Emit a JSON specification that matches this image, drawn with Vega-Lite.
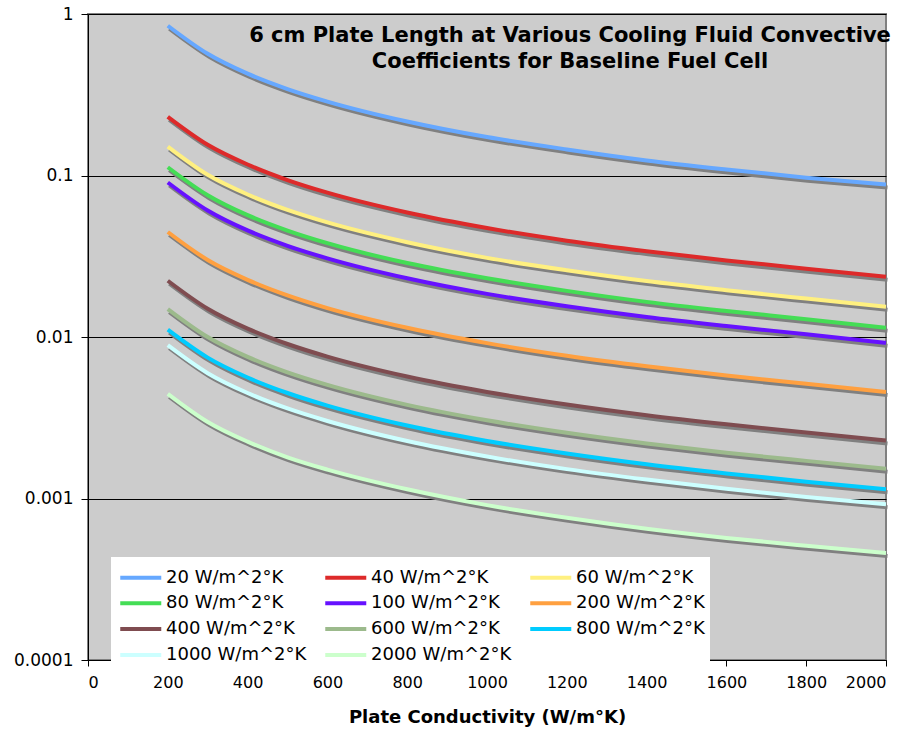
{
  "$schema": "https://vega.github.io/schema/vega-lite/v6.json",
  "width": 798,
  "height": 646,
  "autosize": {"type": "none"},
  "padding": {"left": 88, "top": 14, "right": 25, "bottom": 72},
  "background": "white",
  "title": {
    "text": ["6 cm Plate Length at Various Cooling Fluid Convective", "Coefficients for Baseline Fuel Cell"],
    "font": "DejaVu Sans",
    "fontSize": 21,
    "fontWeight": "bold",
    "color": "black",
    "anchor": "middle",
    "frame": "group",
    "lineHeight": 26,
    "dx": 83,
    "offset": -67
  },
  "config": {
    "view": {"fill": "#CCCCCC", "stroke": "#808080", "strokeWidth": 2},
    "axis": {"labelFont": "DejaVu Sans", "labelColor": "black", "titleFont": "DejaVu Sans", "titleColor": "black", "domainColor": "black", "tickColor": "black"}
  },
  "data": {"values": [
    {"k":200,"h":"20 W/m^2°K","v":0.846},{"k":300,"h":"20 W/m^2°K","v":0.567},{"k":400,"h":"20 W/m^2°K","v":0.427},{"k":500,"h":"20 W/m^2°K","v":0.343},{"k":600,"h":"20 W/m^2°K","v":0.287},{"k":800,"h":"20 W/m^2°K","v":0.216},{"k":1000,"h":"20 W/m^2°K","v":0.173},{"k":1200,"h":"20 W/m^2°K","v":0.145},{"k":1400,"h":"20 W/m^2°K","v":0.124},{"k":1600,"h":"20 W/m^2°K","v":0.109},{"k":1800,"h":"20 W/m^2°K","v":0.097},{"k":2000,"h":"20 W/m^2°K","v":0.088},
    {"k":200,"h":"40 W/m^2°K","v":0.231},{"k":300,"h":"40 W/m^2°K","v":0.155},{"k":400,"h":"40 W/m^2°K","v":0.117},{"k":500,"h":"40 W/m^2°K","v":0.0937},{"k":600,"h":"40 W/m^2°K","v":0.0783},{"k":800,"h":"40 W/m^2°K","v":0.059},{"k":1000,"h":"40 W/m^2°K","v":0.0473},{"k":1200,"h":"40 W/m^2°K","v":0.0395},{"k":1400,"h":"40 W/m^2°K","v":0.034},{"k":1600,"h":"40 W/m^2°K","v":0.0298},{"k":1800,"h":"40 W/m^2°K","v":0.0265},{"k":2000,"h":"40 W/m^2°K","v":0.0236},
    {"k":200,"h":"60 W/m^2°K","v":0.151},{"k":300,"h":"60 W/m^2°K","v":0.101},{"k":400,"h":"60 W/m^2°K","v":0.0763},{"k":500,"h":"60 W/m^2°K","v":0.0612},{"k":600,"h":"60 W/m^2°K","v":0.0512},{"k":800,"h":"60 W/m^2°K","v":0.0386},{"k":1000,"h":"60 W/m^2°K","v":0.0309},{"k":1200,"h":"60 W/m^2°K","v":0.0259},{"k":1400,"h":"60 W/m^2°K","v":0.0222},{"k":1600,"h":"60 W/m^2°K","v":0.0195},{"k":1800,"h":"60 W/m^2°K","v":0.0173},{"k":2000,"h":"60 W/m^2°K","v":0.0154},
    {"k":200,"h":"80 W/m^2°K","v":0.1125},{"k":300,"h":"80 W/m^2°K","v":0.0755},{"k":400,"h":"80 W/m^2°K","v":0.0568},{"k":500,"h":"80 W/m^2°K","v":0.0456},{"k":600,"h":"80 W/m^2°K","v":0.0381},{"k":800,"h":"80 W/m^2°K","v":0.0287},{"k":1000,"h":"80 W/m^2°K","v":0.0231},{"k":1200,"h":"80 W/m^2°K","v":0.0193},{"k":1400,"h":"80 W/m^2°K","v":0.0165},{"k":1600,"h":"80 W/m^2°K","v":0.0145},{"k":1800,"h":"80 W/m^2°K","v":0.0129},{"k":2000,"h":"80 W/m^2°K","v":0.0114},
    {"k":200,"h":"100 W/m^2°K","v":0.0905},{"k":300,"h":"100 W/m^2°K","v":0.0607},{"k":400,"h":"100 W/m^2°K","v":0.0457},{"k":500,"h":"100 W/m^2°K","v":0.0367},{"k":600,"h":"100 W/m^2°K","v":0.0307},{"k":800,"h":"100 W/m^2°K","v":0.0231},{"k":1000,"h":"100 W/m^2°K","v":0.0185},{"k":1200,"h":"100 W/m^2°K","v":0.0155},{"k":1400,"h":"100 W/m^2°K","v":0.0133},{"k":1600,"h":"100 W/m^2°K","v":0.0117},{"k":1800,"h":"100 W/m^2°K","v":0.0104},{"k":2000,"h":"100 W/m^2°K","v":0.0092},
    {"k":200,"h":"200 W/m^2°K","v":0.0447},{"k":300,"h":"200 W/m^2°K","v":0.030},{"k":400,"h":"200 W/m^2°K","v":0.0226},{"k":500,"h":"200 W/m^2°K","v":0.0181},{"k":600,"h":"200 W/m^2°K","v":0.0151},{"k":800,"h":"200 W/m^2°K","v":0.0114},{"k":1000,"h":"200 W/m^2°K","v":0.00916},{"k":1200,"h":"200 W/m^2°K","v":0.00765},{"k":1400,"h":"200 W/m^2°K","v":0.00658},{"k":1600,"h":"200 W/m^2°K","v":0.00577},{"k":1800,"h":"200 W/m^2°K","v":0.00513},{"k":2000,"h":"200 W/m^2°K","v":0.00457},
    {"k":200,"h":"400 W/m^2°K","v":0.0223},{"k":300,"h":"400 W/m^2°K","v":0.01496},{"k":400,"h":"400 W/m^2°K","v":0.01127},{"k":500,"h":"400 W/m^2°K","v":0.00905},{"k":600,"h":"400 W/m^2°K","v":0.00756},{"k":800,"h":"400 W/m^2°K","v":0.00569},{"k":1000,"h":"400 W/m^2°K","v":0.00457},{"k":1200,"h":"400 W/m^2°K","v":0.00382},{"k":1400,"h":"400 W/m^2°K","v":0.00328},{"k":1600,"h":"400 W/m^2°K","v":0.00288},{"k":1800,"h":"400 W/m^2°K","v":0.00256},{"k":2000,"h":"400 W/m^2°K","v":0.00229},
    {"k":200,"h":"600 W/m^2°K","v":0.0149},{"k":300,"h":"600 W/m^2°K","v":0.0100},{"k":400,"h":"600 W/m^2°K","v":0.00753},{"k":500,"h":"600 W/m^2°K","v":0.00604},{"k":600,"h":"600 W/m^2°K","v":0.00505},{"k":800,"h":"600 W/m^2°K","v":0.0038},{"k":1000,"h":"600 W/m^2°K","v":0.00305},{"k":1200,"h":"600 W/m^2°K","v":0.00255},{"k":1400,"h":"600 W/m^2°K","v":0.00219},{"k":1600,"h":"600 W/m^2°K","v":0.00192},{"k":1800,"h":"600 W/m^2°K","v":0.00171},{"k":2000,"h":"600 W/m^2°K","v":0.00153},
    {"k":200,"h":"800 W/m^2°K","v":0.0111},{"k":300,"h":"800 W/m^2°K","v":0.00745},{"k":400,"h":"800 W/m^2°K","v":0.00561},{"k":500,"h":"800 W/m^2°K","v":0.0045},{"k":600,"h":"800 W/m^2°K","v":0.00376},{"k":800,"h":"800 W/m^2°K","v":0.00283},{"k":1000,"h":"800 W/m^2°K","v":0.00227},{"k":1200,"h":"800 W/m^2°K","v":0.0019},{"k":1400,"h":"800 W/m^2°K","v":0.00163},{"k":1600,"h":"800 W/m^2°K","v":0.00143},{"k":1800,"h":"800 W/m^2°K","v":0.00127},{"k":2000,"h":"800 W/m^2°K","v":0.00114},
    {"k":200,"h":"1000 W/m^2°K","v":0.0089},{"k":300,"h":"1000 W/m^2°K","v":0.00597},{"k":400,"h":"1000 W/m^2°K","v":0.0045},{"k":500,"h":"1000 W/m^2°K","v":0.00361},{"k":600,"h":"1000 W/m^2°K","v":0.00302},{"k":800,"h":"1000 W/m^2°K","v":0.00227},{"k":1000,"h":"1000 W/m^2°K","v":0.00182},{"k":1200,"h":"1000 W/m^2°K","v":0.00152},{"k":1400,"h":"1000 W/m^2°K","v":0.00131},{"k":1600,"h":"1000 W/m^2°K","v":0.00115},{"k":1800,"h":"1000 W/m^2°K","v":0.00102},{"k":2000,"h":"1000 W/m^2°K","v":0.00092},
    {"k":200,"h":"2000 W/m^2°K","v":0.00445},{"k":300,"h":"2000 W/m^2°K","v":0.00298},{"k":400,"h":"2000 W/m^2°K","v":0.00225},{"k":500,"h":"2000 W/m^2°K","v":0.0018},{"k":600,"h":"2000 W/m^2°K","v":0.00151},{"k":800,"h":"2000 W/m^2°K","v":0.00114},{"k":1000,"h":"2000 W/m^2°K","v":0.00091},{"k":1200,"h":"2000 W/m^2°K","v":0.00076},{"k":1400,"h":"2000 W/m^2°K","v":0.00065},{"k":1600,"h":"2000 W/m^2°K","v":0.00057},{"k":1800,"h":"2000 W/m^2°K","v":0.00051},{"k":2000,"h":"2000 W/m^2°K","v":0.00046}
  ]},
  "encoding": {
    "x": {
      "field": "k", "type": "quantitative",
      "scale": {"domain": [0, 2000], "nice": false},
      "axis": {
        "values": [0,200,400,600,800,1000,1200,1400,1600,1800,2000],
        "format": "d",
        "grid": false, "tickSize": 6, "labelPadding": 8, "labelFontSize": 16,
        "title": "Plate Conductivity (W/m°K)", "titleFontSize": 18, "titleFontWeight": "bold", "titlePadding": 18
      }
    },
    "y": {
      "field": "v", "type": "quantitative",
      "scale": {"type": "log", "domain": [0.0001, 1], "nice": false},
      "axis": {
        "values": [0.0001, 0.001, 0.01, 0.1, 1],
        "format": "~g",
        "grid": true, "gridColor": "black", "gridWidth": 1, "gridOpacity": 1,
        "tickSize": 7, "labelPadding": 8, "labelFontSize": 17,
        "title": null
      }
    }
  },
  "layer": [
    {
      "mark": {"type": "line", "interpolate": "monotone", "strokeWidth": 4, "color": "#808080", "xOffset": 1.5, "yOffset": 3},
      "encoding": {"detail": {"field": "h"}}
    },
    {
      "mark": {"type": "line", "interpolate": "monotone", "strokeWidth": 4},
      "encoding": {
        "color": {
          "field": "h", "type": "nominal",
          "scale": {
            "domain": ["20 W/m^2°K","40 W/m^2°K","60 W/m^2°K","80 W/m^2°K","100 W/m^2°K","200 W/m^2°K","400 W/m^2°K","600 W/m^2°K","800 W/m^2°K","1000 W/m^2°K","2000 W/m^2°K"],
            "range": ["#66A8FF","#DD2A2A","#FFF080","#44DD55","#6611FF","#FFA040","#7F4C50","#9CBA8C","#00CCFF","#CCFFFF","#CCFFCC"]
          },
          "legend": {
            "title": null,
            "orient": "none",
            "direction": "horizontal",
            "legendX": 23,
            "legendY": 543,
            "columns": 3,
            "gridAlign": "all",
            "fillColor": "white",
            "padding": 5,
            "symbolType": "M-0.85,0H2.25",
            "symbolSize": 700,
            "symbolStrokeWidth": 4,
            "labelFont": "DejaVu Sans",
            "labelFontSize": 18,
            "labelColor": "black",
            "labelLimit": 300,
            "labelOffset": 19,
            "rowPadding": 0.8,
            "columnPadding": 10
          }
        }
      }
    }
  ]
}
